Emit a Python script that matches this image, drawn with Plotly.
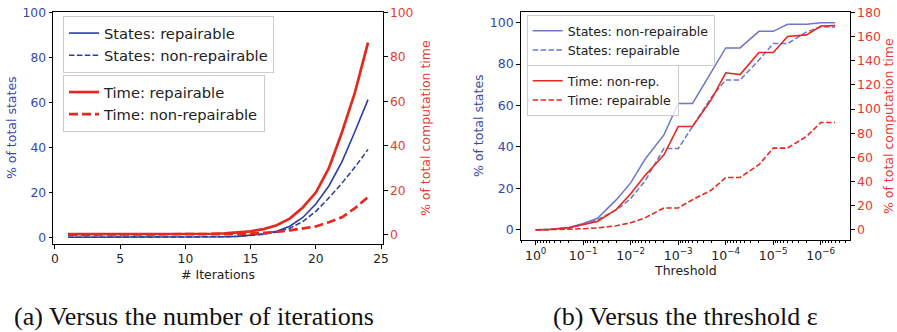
import plotly.graph_objects as go
import numpy as np

# ---------------- data: (a) versus number of iterations ----------------
iterations = [1, 2, 3, 4, 5, 6, 7, 8, 9, 10, 11, 12, 13, 14, 15, 16, 17, 18, 19, 20, 21, 22, 23, 24]
states_rep_a = [0, 0, 0, 0, 0, 0, 0, 0, 0, 0, 0.05, 0.1, 0.2, 0.4, 0.8, 1.5, 2.7, 4.9, 8.8, 14.8, 22.8, 33.5, 47.0, 61.2]
states_nonrep_a = [0, 0, 0, 0, 0, 0, 0, 0, 0, 0, 0.05, 0.1, 0.2, 0.4, 0.7, 1.3, 2.3, 4.0, 7.0, 11.5, 17.5, 24.0, 31.2, 39.0]
time_rep_a = [0.3, 0.3, 0.3, 0.3, 0.3, 0.3, 0.3, 0.3, 0.3, 0.3, 0.4, 0.5, 0.7, 1.0, 1.6, 2.6, 4.3, 7.3, 12.3, 19.0, 30.0, 46.0, 64.0, 86.4]
time_nonrep_a = [0.1, 0.1, 0.1, 0.1, 0.1, 0.1, 0.1, 0.1, 0.1, 0.1, 0.15, 0.2, 0.3, 0.4, 0.6, 0.9, 1.3, 2.0, 2.8, 3.8, 5.7, 7.9, 12.0, 17.0]
xticks_a = [0, 5, 10, 15, 20, 25]
yticks_a = [0, 20, 40, 60, 80, 100]

# ---------------- data: (b) versus threshold ----------------
thresholds = [1, 0.5, 0.2, 0.1, 0.05, 0.02, 0.01, 0.005, 0.002, 0.001,
              5e-4, 2e-4, 1e-4, 5e-5, 2e-5, 1e-5, 5e-6, 2e-6, 1e-6, 5e-7]
states_nonrep_b = [0, 0.2, 1.0, 3.0, 5.5, 14.5, 22.6, 34.0, 45.8, 61.0,
                   61.0, 76.0, 87.8, 87.8, 95.8, 95.8, 99.2, 99.2, 100.0, 100.0]
states_rep_b = [0, 0.1, 0.8, 2.5, 4.8, 9.5, 15.0, 23.5, 39.2, 39.2,
                49.8, 64.0, 72.3, 72.3, 82.0, 89.9, 89.9, 95.5, 97.9, 97.9]
time_nonrep_b = [0, 0.4, 1.8, 4.5, 7.1, 17.0, 30.0, 45.0, 62.2, 85.5,
                 85.5, 108.0, 130.0, 128.5, 146.7, 146.7, 160.0, 161.3, 168.7, 169.0]
time_rep_b = [0, 0.2, 0.5, 1.0, 1.7, 3.5, 6.0, 10.0, 18.2, 18.2,
              25.0, 33.0, 43.4, 43.4, 54.0, 67.7, 67.7, 77.3, 88.9, 88.9]
xticks_b = [1, 1e-1, 1e-2, 1e-3, 1e-4, 1e-5, 1e-6]
xticktext_b = ["10<sup>0</sup>", "10<sup>−1</sup>", "10<sup>−2</sup>", "10<sup>−3</sup>",
               "10<sup>−4</sup>", "10<sup>−5</sup>", "10<sup>−6</sup>"]
yticks_b_left = [0, 20, 40, 60, 80, 100]
yticks_b_right = [0, 20, 40, 60, 80, 100, 120, 140, 160, 180]

# ---------------- styling ----------------
W, H = 897, 332
BLUE = "#2b3ea5"
BLUE_LIGHT = "#6f76cb"
BLUE_TXT = "#3447aa"
RED = "#e4291f"
RED_TXT = "#e8392f"
FONT = "DejaVu Sans"
FS_A = 12.3
FS_B = 12.5
FS_TITLE = 12.5


def px(x):
    return x / W


def py(y):
    return 1 - y / H


fig = go.Figure()

# (a)
fig.add_trace(go.Scatter(x=iterations, y=states_rep_a, mode="lines", name="States: repairable",
                         line=dict(color=BLUE, width=1.6), xaxis="x", yaxis="y", legend="legend"))
fig.add_trace(go.Scatter(x=iterations, y=states_nonrep_a, mode="lines", name="States: non-repairable",
                         line=dict(color=BLUE, width=1.5, dash="5.5px,2.4px"), xaxis="x", yaxis="y", legend="legend"))
fig.add_trace(go.Scatter(x=iterations, y=time_rep_a, mode="lines", name="Time: repairable",
                         line=dict(color=RED, width=2.7), xaxis="x", yaxis="y2", legend="legend2"))
fig.add_trace(go.Scatter(x=iterations, y=time_nonrep_a, mode="lines", name="Time: non-repairable",
                         line=dict(color=RED, width=2.7, dash="9px,4px"), xaxis="x", yaxis="y2", legend="legend2"))

# (b)
fig.add_trace(go.Scatter(x=thresholds, y=states_nonrep_b, mode="lines", name="States: non-repairable",
                         line=dict(color=BLUE_LIGHT, width=1.5), xaxis="x2", yaxis="y3", legend="legend3"))
fig.add_trace(go.Scatter(x=thresholds, y=states_rep_b, mode="lines", name="States: repairable",
                         line=dict(color=BLUE_LIGHT, width=1.5, dash="5.5px,2.4px"), xaxis="x2", yaxis="y3", legend="legend3"))
fig.add_trace(go.Scatter(x=thresholds, y=time_nonrep_b, mode="lines", name="Time: non-rep.",
                         line=dict(color=RED, width=1.6), xaxis="x2", yaxis="y4", legend="legend4"))
fig.add_trace(go.Scatter(x=thresholds, y=time_rep_b, mode="lines", name="Time: repairable",
                         line=dict(color=RED, width=1.6, dash="5.5px,2.4px"), xaxis="x2", yaxis="y4", legend="legend4"))

common = dict(ticks="outside", ticklen=3.5, tickwidth=0.8, tickcolor="black",
              showline=True, linecolor="black", linewidth=1, showgrid=False, zeroline=False)

minor_vals = [m * 10.0 ** k for k in range(-7, 1) for m in range(2, 10)]
minor_vals = [v for v in minor_vals if -6.615 <= np.log10(v) <= 0.315]


def legend_style(size):
    return dict(xanchor="left", yanchor="top", bgcolor="rgba(255,255,255,0.8)",
                bordercolor="#cccccc", borderwidth=1,
                font=dict(family=FONT, size=size, color="#222"))


fig.update_layout(
    width=W, height=H, autosize=False,
    margin=dict(l=0, r=0, t=0, b=0, pad=0, autoexpand=False),
    paper_bgcolor="white", plot_bgcolor="white",
    font=dict(family=FONT, size=FS_A, color="#222"),
    xaxis=dict(domain=[px(53), px(383)], anchor="y", range=[-0.15, 25.15],
               tickmode="array", tickvals=xticks_a, mirror=True,
               tickfont=dict(size=FS_A, color="#222"), **common),
    yaxis=dict(domain=[py(244), py(12.3)], anchor="x", range=[-3.0, 100],
               tickmode="array", tickvals=yticks_a,
               tickfont=dict(size=FS_A, color=BLUE_TXT), **common),
    yaxis2=dict(overlaying="y", side="right", anchor="x", range=[-4.1, 100],
                tickmode="array", tickvals=yticks_a,
                tickfont=dict(size=FS_A, color=RED_TXT), **common),
    xaxis2=dict(domain=[px(520.7), px(850)], anchor="y3", type="log", range=[0.315, -6.615],
                tickmode="array", tickvals=xticks_b, ticktext=xticktext_b, mirror=True,
                minor=dict(ticks="outside", ticklen=2, tickwidth=0.6, tickcolor="black",
                           tickmode="array", tickvals=minor_vals),
                tickfont=dict(size=FS_B, color="#222"), **common),
    yaxis3=dict(domain=[py(240), py(12.3)], anchor="x2", range=[-5, 105],
                tickmode="array", tickvals=yticks_b_left,
                tickfont=dict(size=FS_B, color=BLUE_TXT), **common),
    yaxis4=dict(overlaying="y3", side="right", anchor="x2", range=[-8.3, 180],
                tickmode="array", tickvals=yticks_b_right,
                tickfont=dict(size=FS_B, color=RED_TXT), **common),
    legend=dict(x=px(63), y=py(16), **legend_style(14.7)),
    legend2=dict(x=px(63), y=py(75), **legend_style(14.7)),
    legend3=dict(x=px(526.7), y=py(15), **legend_style(12.6)),
    legend4=dict(x=px(526.7), y=py(65), **legend_style(12.6)),
    showlegend=True,
)

ann = []


def add_text(text, x, y, color="#222", size=FS_TITLE, angle=0, family=FONT):
    ann.append(dict(text=text, x=px(x), y=py(y), xref="paper", yref="paper",
                    xanchor="center", yanchor="middle", showarrow=False,
                    textangle=angle, font=dict(family=family, size=size, color=color)))


add_text("% of total states", 11, 128, BLUE_TXT, angle=-90)
add_text("% of total computation time", 425, 128, RED_TXT, angle=-90)
add_text("# Iterations", 218, 274)
add_text("% of total states", 478, 126, BLUE_TXT, angle=-90)
add_text("% of total computation time", 888, 126, RED_TXT, angle=-90)
add_text("Threshold", 685, 270)
add_text("(a) Versus the number of iterations", 194, 316, "#111", size=26, family="Liberation Serif")
add_text("(b) Versus the threshold ε", 685, 316, "#111", size=26, family="Liberation Serif")
fig.update_layout(annotations=ann)

fig.write_html("out.html", config={"displayModeBar": False},
               post_script="document.body.style.margin='0px';")
